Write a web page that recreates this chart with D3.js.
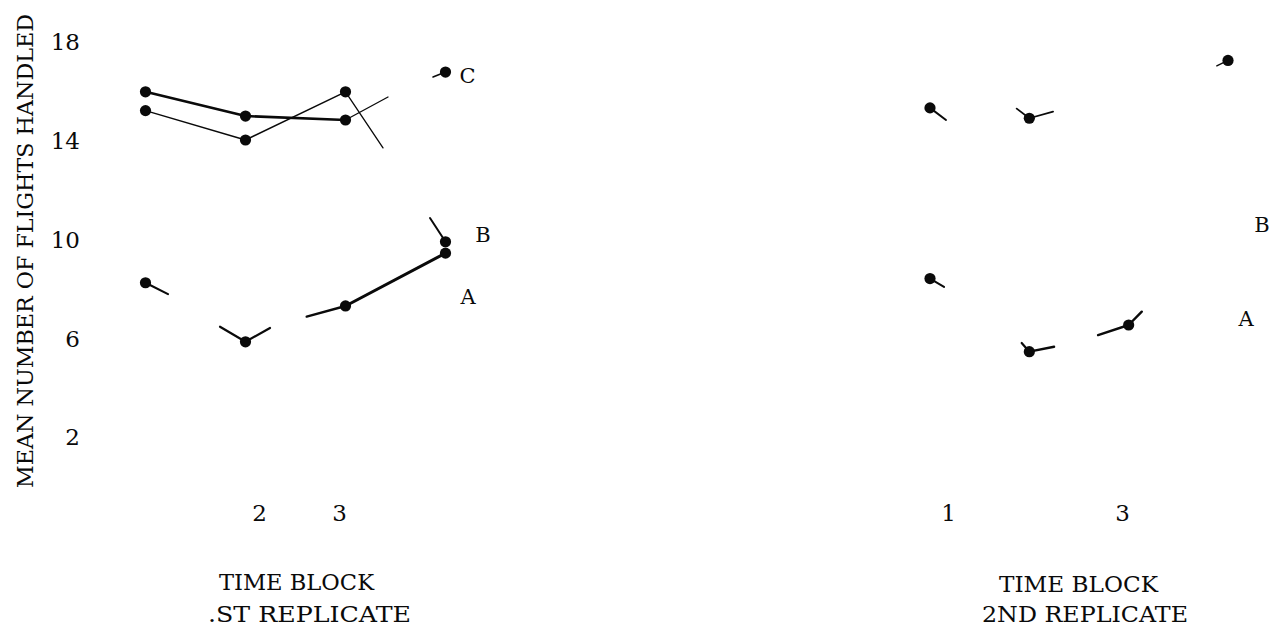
<!DOCTYPE html>
<html>
<head>
<meta charset="utf-8">
<script src="https://cdn.jsdelivr.net/npm/d3@7"></script>
<style>
html,body{margin:0;padding:0;background:#fff;}
svg{display:block;}
</style>
</head>
<body>
<svg id="chart" width="1277" height="631"></svg>
<script>
// ---------------- data ----------------
const timeBlocks = [1, 2, 3, 4];
const yTickValues = [18, 14, 10, 6, 2];
const yTitle = "MEAN NUMBER OF FLIGHTS HANDLED";
const xTitle = "TIME BLOCK";
const rep1Title = ".ST REPLICATE";
const rep2Title = "2ND REPLICATE";
const rep1TickBlocks = [2, 3];
const rep2TickBlocks = [1, 3];
const seriesNames = ["A", "B", "C"];

// mean values per time block (null = not visible in the scan)
const rep1A = [8.35, 5.96, 7.41, 9.55];
const rep1B = [15.32, 14.13, 16.08, 10.01];
const rep1C = [16.08, 15.10, 14.94, 16.88];
const rep2A = [8.52, 5.56, 6.64, null];
const rep2B = [null, null, null, null];
const rep2C = [15.43, 15.01, null, 17.35];

// visible pieces of the connecting lines: [block1, value1, block2, value2]
const rep1AFrags = [[1, 8.35, 1.225, 7.89], [1.745, 6.57, 2, 5.96], [2, 5.96, 2.245, 6.52], [2.612, 6.98, 3, 7.41], [3, 7.41, 4, 9.55]];
const rep1BFrags = [[1, 15.32, 2, 14.13], [2, 14.13, 3, 16.08], [3, 16.08, 3.375, 13.81], [3.845, 10.97, 4, 10.01]];
const rep1CFrags = [[1, 16.08, 2, 15.10], [2, 15.10, 3, 14.94], [3, 14.94, 3.425, 15.87], [3.875, 16.68, 4, 16.88]];
const rep2AFrags = [[1, 8.52, 1.141, 8.18], [1.923, 5.91, 2, 5.56], [2, 5.56, 2.249, 5.76], [2.692, 6.23, 3, 6.64], [3, 6.64, 3.132, 7.18]];
const rep2BFrags = [];
const rep2CFrags = [[1, 15.43, 1.161, 14.94], [1.873, 15.40, 2, 15.01], [2, 15.01, 2.239, 15.28], [3.887, 17.13, 4, 17.35]];

// value level where each series letter is printed (A, B, C)
const rep1LabelAt = [7.81, 10.32, 16.76];
const rep2LabelAt = [6.92, 10.73, null];

// ---------------- drawing ----------------
const svg = d3.select("#chart");
const ink = "#0a0a0a";
const serif = "'DejaVu Serif', 'Liberation Serif', serif";
const y = d3.scaleLinear().domain([2, 18]).range([439.6, 44.4]);
const x1 = d3.scaleLinear().domain([1, 4]).range([145.5, 445.5]);
const x2 = d3.scaleLinear().domain([1, 4]).range([930, 1228]);

// line widths per series / fragment (style only)
const widths = {
  rep1A: [2.2, 2.2, 2.2, 2.4, 3.0],
  rep1B: [1.5, 1.5, 1.3, 2.0],
  rep1C: [2.6, 2.6, 1.3, 1.6],
  rep2A: [2.0, 2.2, 2.4, 2.4, 2.4],
  rep2B: [],
  rep2C: [2.0, 1.8, 1.8, 1.4]
};

// y axis tick labels
const yAxis = d3.axisLeft(y).tickValues(yTickValues).tickSize(0).tickPadding(0).tickFormat(d3.format("d"));
const gy = svg.append("g").attr("transform", "translate(80,-2)").call(yAxis);
gy.select(".domain").remove();
gy.selectAll("text").attr("fill", ink).style("font-family", serif).style("font-size", "23px");

// y axis title
svg.append("text")
  .attr("transform", "translate(33,488) rotate(-90)")
  .attr("textLength", 474).attr("lengthAdjust", "spacingAndGlyphs")
  .attr("fill", ink)
  .style("font-family", serif)
  .style("font-size", "23px")
  .text(yTitle);

function panel(key, x, tickBlocks, tickDx, series, frags, labelAt, labelDx, titleA, titleB) {
  const g = svg.append("g");
  // x tick labels
  const xAxis = d3.axisBottom(x).tickValues(tickBlocks).tickSize(0).tickPadding(0).tickFormat(d3.format("d"));
  const gx = g.append("g").attr("transform", "translate(0,505)").call(xAxis);
  gx.select(".domain").remove();
  gx.selectAll("text").attr("fill", ink)
    .attr("dx", (d, i) => tickDx[i])
    .style("font-family", serif).style("font-size", "23px");

  series.forEach((vals, si) => {
    const name = seriesNames[si];
    const fr = frags[si];
    const w = widths[key + name];
    g.selectAll(null).data(fr).join("line")
      .attr("x1", d => x(d[0])).attr("y1", d => y(d[1]))
      .attr("x2", d => x(d[2])).attr("y2", d => y(d[3]))
      .attr("stroke", ink).attr("stroke-linecap", "round")
      .attr("stroke-width", (d, i) => w[i]);
    const pts = timeBlocks.map((b, i) => ({ b, v: vals[i] })).filter(p => p.v !== null);
    g.selectAll(null).data(pts).join("circle")
      .attr("cx", d => x(d.b)).attr("cy", d => y(d.v)).attr("r", 5.6)
      .attr("fill", ink);
    if (labelAt[si] !== null) {
      g.append("text")
        .attr("x", x(4) + labelDx[si]).attr("y", y(labelAt[si]))
        .attr("dy", "0.36em").attr("text-anchor", "middle")
        .attr("fill", ink)
        .style("font-family", serif).style("font-size", "21px")
        .text(name);
    }
  });

  g.append("text").attr("x", titleA[0]).attr("y", titleA[1])
    .attr("textLength", titleA[2]).attr("lengthAdjust", "spacingAndGlyphs")
    .attr("fill", ink).style("font-family", serif).style("font-size", "23px").text(xTitle);
  g.append("text").attr("x", titleB[0]).attr("y", titleB[1])
    .attr("textLength", titleB[2]).attr("lengthAdjust", "spacingAndGlyphs")
    .attr("fill", ink).style("font-family", serif).style("font-size", "23px").text(titleB[3]);
}

panel("rep1", x1, rep1TickBlocks, [13.5, -6.5],
  [rep1A, rep1B, rep1C], [rep1AFrags, rep1BFrags, rep1CFrags],
  rep1LabelAt, [22.5, 37.5, 22],
  [219, 590, 155], [208, 622, 203, rep1Title]);

panel("rep2", x2, rep2TickBlocks, [18, -6.6],
  [rep2A, rep2B, rep2C], [rep2AFrags, rep2BFrags, rep2CFrags],
  rep2LabelAt, [18, 34, 0],
  [999, 592, 159], [982, 622, 206, rep2Title]);
</script>
</body>
</html>
